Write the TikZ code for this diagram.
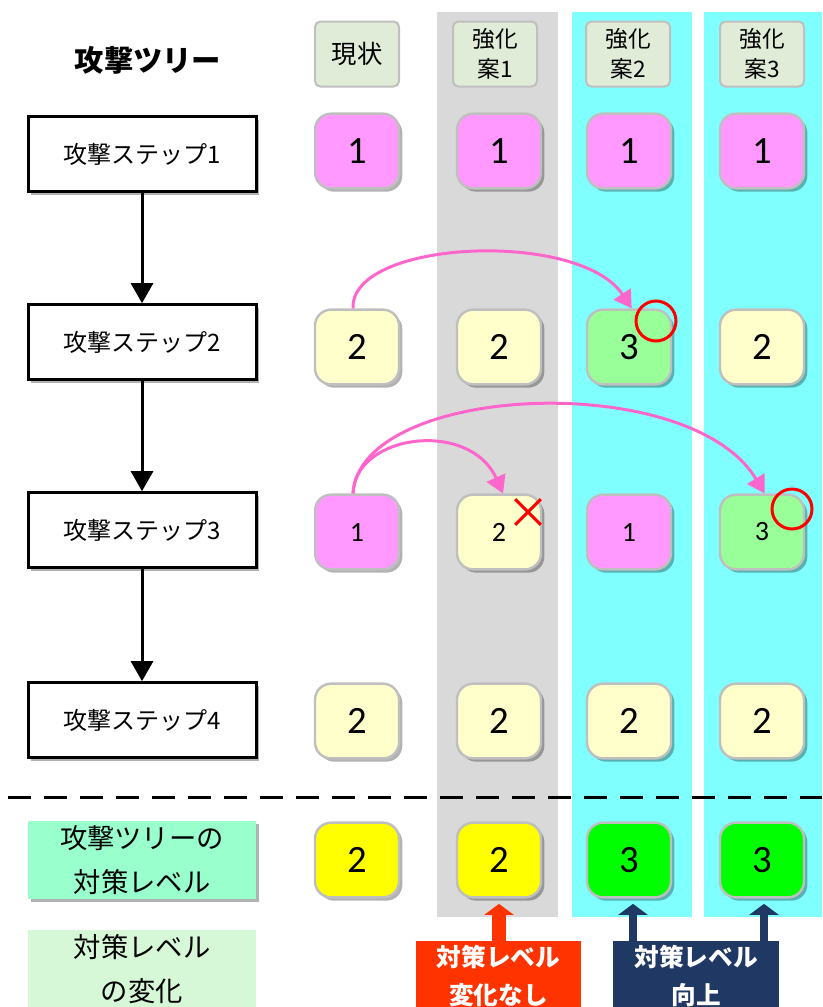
\documentclass[tikz,border=0pt]{standalone}
\usepackage{fontspec}
\setmainfont{Noto Sans CJK JP}
\newfontfamily\numfont{Carlito}
\usetikzlibrary{arrows.meta, shapes.misc, shadows, calc}
\definecolor{atPink}{HTML}{FF99FF}
\definecolor{atCream}{HTML}{FFFFCC}
\definecolor{atLime}{HTML}{99FF99}
\definecolor{atYellow}{HTML}{FFFF00}
\definecolor{atGreen}{HTML}{00FF00}
\definecolor{atHead}{HTML}{E0ECD8}
\definecolor{atGrey}{HTML}{D9D9D9}
\definecolor{atCyan}{HTML}{80FFFF}
\definecolor{atMint}{HTML}{99FFCC}
\definecolor{atPale}{HTML}{D6F8D6}
\definecolor{atArrow}{HTML}{FF66CC}
\definecolor{atOrange}{HTML}{FF3300}
\definecolor{atNavy}{HTML}{203864}
\definecolor{atEdge}{HTML}{BFBFBF}
\tikzset{
  softshadow/.style = {drop shadow={shadow xshift=2.5pt, shadow yshift=-2.5pt,
                        opacity=0.3, fill=black}},
  stepbox/.style    = {draw=black, line width=2.25pt, fill=white, softshadow,
                       minimum width=171pt, minimum height=56pt,
                       font=\fontsize{18pt}{20pt}\selectfont},
  valbox/.style     = {draw=atEdge, line width=1.8pt, rounded corners=12pt, softshadow,
                       minimum width=63pt, minimum height=56pt,
                       font=\numfont\fontsize{29pt}{30pt}\selectfont},
  smallval/.style   = {font=\numfont\fontsize{21pt}{22pt}\selectfont},
  hdrbox/.style     = {draw=atEdge, line width=1.5pt, rounded corners=4pt, fill=atHead,
                       minimum width=63pt, minimum height=48.75pt, align=center,
                       font=\fontsize{17pt}{22.5pt}\selectfont},
  lvlbox/.style     = {minimum width=171pt, align=center,
                       font=\fontsize{20.5pt}{33pt}\selectfont},
  notebox/.style    = {minimum width=124pt, minimum height=49.5pt, align=center,
                       text=white, font=\fontsize{18.5pt}{28pt}\selectfont\bfseries},
  treearrow/.style  = {-{Triangle[width=16.5pt, length=15pt]}, line width=2.25pt, black},
  pinkarrow/.style  = {-{Triangle[width=15pt, length=13pt]}, line width=2.25pt, atArrow},
  okmark/.style     = {circle, draw=red, line width=2.25pt, minimum size=30pt, inner sep=0pt},
  ngmark/.style     = {cross out, draw=red, line width=2.25pt, minimum size=17pt, inner sep=0pt},
}

\begin{document}
\begin{tikzpicture}[x=0.75pt, y=-0.75pt,
    blockarrow/.style={-{Triangle[width=21.75pt, length=8.25pt]}}]
  \useasboundingbox (0,0) rectangle (822,1007);
  % column backgrounds
  \fill[atGrey] (437,12) rectangle (558,917);
  \fill[atCyan] (572,12) rectangle (692,917);
  \fill[atCyan] (704,12) rectangle (822,917);
  % attack tree
  \node[font=\fontsize{22pt}{24pt}\selectfont\bfseries] (title) at (148,60) {攻撃ツリー};
  \node[stepbox] (s1) at (142,154) {攻撃ステップ1};
  \node[stepbox] (s2) at (142,342) {攻撃ステップ2};
  \node[stepbox] (s3) at (142,530) {攻撃ステップ3};
  \node[stepbox] (s4) at (142,720) {攻撃ステップ4};
  \draw[treearrow] (s1) -- (s2);
  \draw[treearrow] (s2) -- (s3);
  \draw[treearrow] (s3) -- (s4);
  % column headers
  \node[hdrbox, font=\fontsize{19pt}{22pt}\selectfont] (h0) at (357,54) {現状};
  \node[hdrbox] (h1) at (495,54) {強化\\案1};
  \node[hdrbox] (h2) at (628,54) {強化\\案2};
  \node[hdrbox] (h3) at (762,54) {強化\\案3};
  % current state
  \node[valbox, fill=atPink]  (n1) at (357,151) {1};
  \node[valbox, fill=atCream] (n2) at (357,347) {2};
  \node[valbox, fill=atPink, smallval] (n3) at (357,532) {1};
  \node[valbox, fill=atCream] (n4) at (357,721) {2};
  % plan 1
  \node[valbox, fill=atPink]  (a1) at (499,151) {1};
  \node[valbox, fill=atCream] (a2) at (499,347) {2};
  \node[valbox, fill=atCream, smallval] (a3) at (499,532) {2};
  \node[valbox, fill=atCream] (a4) at (499,721) {2};
  % plan 2
  \node[valbox, fill=atPink]  (b1) at (629,151) {1};
  \node[valbox, fill=atLime]  (b2) at (629,347) {3};
  \node[valbox, fill=atPink, smallval] (b3) at (629,532) {1};
  \node[valbox, fill=atCream] (b4) at (629,721) {2};
  % plan 3
  \node[valbox, fill=atPink]  (c1) at (762,151) {1};
  \node[valbox, fill=atCream] (c2) at (762,347) {2};
  \node[valbox, fill=atLime, smallval] (c3) at (762,532) {3};
  \node[valbox, fill=atCream] (c4) at (762,721) {2};
  % strengthening moves
  \draw[pinkarrow] ([xshift=-3pt]n2.north) .. controls +(-3,-69) and +(-52,-79) .. ([xshift=2pt]b2.north);
  \draw[pinkarrow] ([xshift=-3pt]n3.north) .. controls +(2,-60) and +(-33,-74) .. ([xshift=3pt]a3.north);
  \draw[pinkarrow] ([xshift=-3pt]n3.north) .. controls +(7,-110) and +(-75,-125) .. ([xshift=2pt]c3.north);
  \node[okmark] (ok1) at ($(b2)+(27,-26)$) {};
  \node[okmark] (ok2) at ($(c3)+(30,-23)$) {};
  \node[ngmark] (ng1) at ($(a3)+(29,-20)$) {};
  % separator
  \coordinate (sepL) at (8,797);
  \coordinate (sepR) at (822,797);
  \draw[line width=2.25pt, dash pattern=on 17pt off 10pt] (sepL) -- (sepR);
  % countermeasure level
  \node[lvlbox, fill=atMint, minimum height=56pt, softshadow] (lvA) at (142,860) {攻撃ツリーの\\対策レベル};
  \node[lvlbox, fill=atPale, minimum height=57.75pt] (lvB) at (142,969) {対策レベル\\の変化};
  \node[valbox, fill=atYellow] (n5) at (357,860) {2};
  \node[valbox, fill=atYellow] (a5) at (499,860) {2};
  \node[valbox, fill=atGreen]  (b5) at (629,860) {3};
  \node[valbox, fill=atGreen]  (c5) at (762,860) {3};
  \node[notebox, fill=atOrange] (same) at (498.5,976) {対策レベル\\変化なし};
  \node[notebox, fill=atNavy, minimum width=124.5pt] (up) at (696,976) {対策レベル\\向上};
  \draw[blockarrow, atOrange, line width=10.5pt] (same.north -| a5.south) -- ([yshift=-4pt]a5.south);
  \draw[blockarrow, atNavy, line width=6pt] ([xshift=3pt]up.north -| b5.south) -- ([xshift=3pt, yshift=-4pt]b5.south);
  \draw[blockarrow, atNavy, line width=6pt] ([xshift=1.5pt]up.north -| c5.south) -- ([xshift=1.5pt, yshift=-4pt]c5.south);
\end{tikzpicture}
\end{document}
